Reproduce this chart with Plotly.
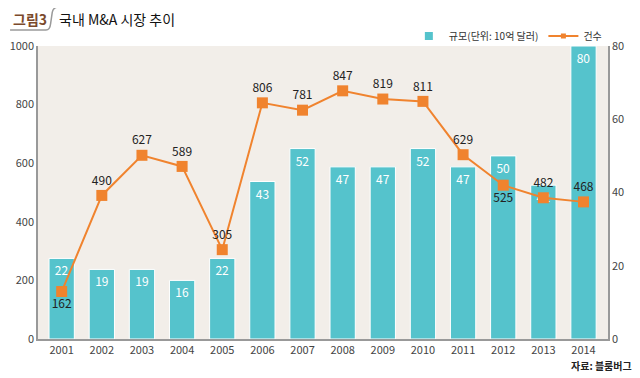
import plotly.graph_objects as go

years = ["2001", "2002", "2003", "2004", "2005", "2006", "2007", "2008", "2009", "2010", "2011", "2012", "2013", "2014"]
scale_values = [22, 19, 19, 16, 22, 43, 52, 47, 47, 52, 47, 50, 42, 80]
count_values = [162, 490, 627, 589, 305, 806, 781, 847, 819, 811, 629, 525, 482, 468]
count_label_pos = ["bottom center", "top center", "top center", "top center", "top center",
                   "top center", "top center", "top center", "top center", "top center",
                   "top center", "bottom center", "top center", "top center"]

NUM_FONT = "Liberation Sans Narrow, Noto Sans CJK KR, sans-serif"
KR_FONT = "Noto Sans CJK KR, sans-serif"
TEAL = "#55c3cc"
ORANGE = "#f0832e"

fig = go.Figure()
fig.add_trace(go.Bar(
    x=years, y=scale_values, name="규모(단위: 10억 달러)", showlegend=False,
    marker=dict(color=TEAL, line=dict(color="white", width=1)),
    width=0.63,
    text=[str(v) for v in scale_values], textposition="inside", insidetextanchor="end",
    textfont=dict(color="white", size=12, family=NUM_FONT),
    yaxis="y", cliponaxis=False,
))
fig.add_trace(go.Scatter(
    x=years, y=count_values, name="건수", mode="lines+markers+text", showlegend=False,
    line=dict(color=ORANGE, width=2),
    marker=dict(symbol="square", size=11, color=ORANGE),
    text=[str(v) for v in count_values], textposition=count_label_pos,
    textfont=dict(color="#222222", size=12, family=NUM_FONT),
    yaxis="y2", cliponaxis=False,
))
# legend entries (small symbols, as in the reference)
fig.add_trace(go.Scatter(
    x=[None], y=[None], name="규모(단위: 10억 달러)", mode="markers",
    marker=dict(symbol="square", size=8, color=TEAL), yaxis="y",
))
fig.add_trace(go.Scatter(
    x=[None], y=[None], name="건수", mode="lines+markers",
    line=dict(color=ORANGE, width=2),
    marker=dict(symbol="square", size=5, color=ORANGE), yaxis="y2",
))

# The page body has an 8px margin, so the figure is offset by 8px; compensate.
fig.update_layout(
    width=632, height=370,
    margin=dict(l=30, r=32, t=38, b=39, autoexpand=False),
    paper_bgcolor="white", plot_bgcolor="#f2eee9",
    showlegend=True,
    legend=dict(orientation="h", x=0.998, xanchor="right", y=1.034, yanchor="middle",
                font=dict(size=10, family=KR_FONT, color="#333"),
                bgcolor="rgba(0,0,0,0)", traceorder="normal", itemwidth=30,
                tracegroupgap=0),
    xaxis=dict(type="category", range=[-0.59, 13.61], showgrid=False,
               showline=True, linecolor="#999", linewidth=1.5, ticks="",
               tickfont=dict(size=11, family=NUM_FONT, color="#444")),
    yaxis=dict(side="right", range=[0, 80], tickvals=[0, 20, 40, 60, 80],
               showgrid=False, zeroline=False, showline=True, linecolor="#999", linewidth=1.5,
               ticks="", tickfont=dict(size=11, family=NUM_FONT, color="#444")),
    yaxis2=dict(side="left", overlaying="y", range=[0, 1000], tickvals=[0, 200, 400, 600, 800, 1000],
                showgrid=False, zeroline=False, showline=True, linecolor="#999", linewidth=1.5,
                ticks="", tickfont=dict(size=11, family=NUM_FONT, color="#444")),
    shapes=[
        dict(type="path", xref="paper", yref="paper", layer="above",
             path="M -0.049 1.0546 L 0.014 1.0546 Q 0.021 1.0546 0.022 1.075 L 0.025 1.115 Q 0.027 1.133 0.036 1.133 L 1.044 1.133",
             line=dict(color="#9a9a9a", width=1.5)),
    ],
)

fig.add_annotation(text="<b>그림3</b>", xref="paper", yref="paper", x=-0.047, y=1.093,
                   xanchor="left", yanchor="middle", showarrow=False,
                   font=dict(size=14, family=KR_FONT, color="#7b4a2c"))
fig.add_annotation(text="국내 M&A 시장 추이", xref="paper", yref="paper", x=0.033, y=1.093,
                   xanchor="left", yanchor="middle", showarrow=False,
                   font=dict(size=14, family=KR_FONT, color="#111"))
fig.add_annotation(text="<b>자료: 블룸버그</b>", xref="paper", yref="paper", x=1.045, y=-0.092,
                   xanchor="right", yanchor="middle", showarrow=False,
                   font=dict(size=10, family=KR_FONT, color="#222"))

fig.write_html("out.html")
